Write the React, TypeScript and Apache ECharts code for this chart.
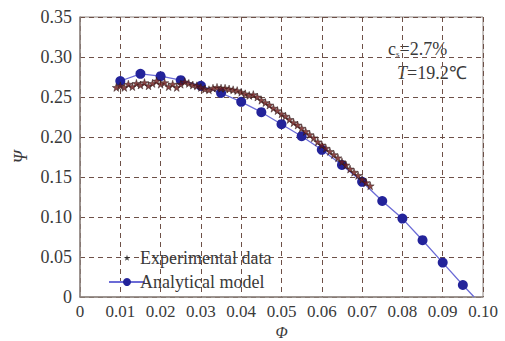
import React, { useEffect, useRef } from "react";
import * as echarts from "echarts";

const expX: number[] = [
  0.009, 0.010, 0.011, 0.012, 0.013, 0.014, 0.015, 0.016, 0.017, 0.018, 0.019, 0.020,
  0.021, 0.022, 0.023, 0.024, 0.025, 0.026, 0.027, 0.028, 0.029, 0.030, 0.031, 0.032,
  0.033, 0.034, 0.035, 0.036, 0.037, 0.038, 0.039, 0.040, 0.041, 0.042, 0.043, 0.044,
  0.045, 0.046, 0.047, 0.048, 0.049, 0.050, 0.051, 0.052, 0.053, 0.054, 0.055, 0.056,
  0.057, 0.058, 0.059, 0.060, 0.061, 0.062, 0.063, 0.064, 0.065, 0.066, 0.067, 0.068,
  0.069, 0.070, 0.071, 0.072,
];
const expY: number[] = [
  0.262, 0.264, 0.262, 0.266, 0.263, 0.267, 0.265, 0.268, 0.264, 0.267, 0.270, 0.266,
  0.268, 0.263, 0.266, 0.262, 0.266, 0.269, 0.267, 0.265, 0.264, 0.262, 0.260, 0.259,
  0.261, 0.262, 0.261, 0.261, 0.260, 0.259, 0.258, 0.256, 0.254, 0.252, 0.253, 0.250,
  0.246, 0.243, 0.240, 0.236, 0.233, 0.229, 0.226, 0.222, 0.218, 0.215, 0.211, 0.207,
  0.203, 0.199, 0.194, 0.190, 0.186, 0.182, 0.178, 0.174, 0.169, 0.165, 0.160, 0.156,
  0.152, 0.147, 0.143, 0.139,
];

const modelX: number[] = [
  0.010, 0.015, 0.020, 0.025, 0.030, 0.035, 0.040, 0.045, 0.050, 0.055, 0.060, 0.065,
  0.070, 0.075, 0.080, 0.085, 0.090, 0.095,
];
const modelY: number[] = [
  0.270, 0.279, 0.276, 0.271, 0.264, 0.255, 0.244, 0.231, 0.216, 0.201, 0.184, 0.165,
  0.144, 0.120, 0.098, 0.071, 0.043, 0.015,
];
// line end where the model reaches zero (no marker)
const modelEnd: number[] = [0.0978, 0];

const xTicks: string[] = ["0", "0.01", "0.02", "0.03", "0.04", "0.05", "0.06", "0.07", "0.08", "0.09", "0.10"];
const yTicks: string[] = ["0", "0.05", "0.10", "0.15", "0.20", "0.25", "0.30", "0.35"];

const STAR_D = "M50,0 L61,35 L98,35 L68,57 L79,91 L50,70 L21,91 L32,57 L2,35 L39,35 Z";
const STAR = "path://" + STAR_D;
// same star with empty margin so that the legend icon is drawn smaller
const STAR_SMALL = "path://M-22,-22 L-22,-22 M122,122 L122,122 " + STAR_D;
const FONT = "Times New Roman, Liberation Serif, serif";
const TXT = "#3a3a3a";

export default function App() {
  const ref = useRef<HTMLDivElement>(null);
  useEffect(() => {
    if (!ref.current) return;
    const chart = echarts.init(ref.current, undefined, { renderer: "svg" });
    const expData = expX.map((x, i) => [x, expY[i]]);
    const modelData: any[] = modelX.map((x, i) => [x, modelY[i]]);
    modelData.push({ value: modelEnd, symbol: "none" });
    const split = { show: true, lineStyle: { color: "#6e5047", type: [5, 4], width: 1 } };
    chart.setOption({
      animation: false,
      backgroundColor: "#ffffff",
      textStyle: { fontFamily: FONT },
      grid: {
        left: 80,
        right: 22,
        top: 17,
        bottom: 44,
        containLabel: false,
        outerBoundsMode: "none",
        show: true,
        borderColor: "#8f8580",
        borderWidth: 1,
      },
      xAxis: {
        type: "value",
        min: 0,
        max: 0.1,
        interval: 0.01,
        name: "Φ",
        nameLocation: "middle",
        nameGap: 20,
        nameTextStyle: { fontFamily: FONT, fontStyle: "italic", fontSize: 16, color: TXT },
        axisLine: { show: true, lineStyle: { color: "#8f8580", width: 1.5 } },
        axisTick: { show: false },
        axisLabel: {
          fontFamily: FONT,
          fontSize: 17,
          color: TXT,
          margin: 6,
          formatter: (v: number) => xTicks[Math.round(v * 100)] ?? "",
        },
        splitLine: split,
      },
      yAxis: {
        type: "value",
        min: 0,
        max: 0.35,
        interval: 0.05,
        name: "Ψ",
        nameLocation: "middle",
        nameGap: 50,
        nameRotate: 90,
        nameTextStyle: { fontFamily: FONT, fontStyle: "italic", fontSize: 18, color: TXT },
        axisLine: { show: true, lineStyle: { color: "#8f8580", width: 1.5 } },
        axisTick: { show: false },
        axisLabel: {
          fontFamily: FONT,
          fontSize: 18,
          color: TXT,
          margin: 8,
          formatter: (v: number) => yTicks[Math.round(v * 20)] ?? "",
        },
        splitLine: split,
      },
      legend: {
        orient: "vertical",
        left: 103,
        top: 244,
        itemWidth: 36,
        itemHeight: 10,
        itemGap: 6,
        textStyle: { fontFamily: FONT, fontSize: 18, color: TXT, padding: [0, 0, 0, -10] },
        data: [
          { name: "Experimental data", icon: STAR_SMALL, itemStyle: { color: "#222", borderWidth: 0 } },
          { name: "Analytical model" },
        ],
      },
      series: [
        {
          name: "Analytical model",
          type: "line",
          data: modelData,
          symbol: "circle",
          symbolSize: 10,
          lineStyle: { color: "#6b6bd6", width: 1.3 },
          itemStyle: { color: "#23239a" },
          z: 2,
        },
        {
          name: "Experimental data",
          type: "scatter",
          data: expData,
          symbol: STAR,
          symbolSize: 8,
          itemStyle: { color: "#6e1818", borderColor: "#2a1a1a", borderWidth: 0.6 },
          z: 3,
        },
      ],
      graphic: [
        {
          type: "text",
          left: 388,
          top: 40,
          style: {
            text: "{a|c}{s|s}{a|=2.7%}",
            rich: {
              a: { fontFamily: FONT, fontSize: 18, fill: TXT },
              s: { fontFamily: FONT, fontSize: 9, fill: TXT, padding: [10, 0, 0, 0] },
            },
          },
        },
        {
          type: "text",
          left: 397,
          top: 64,
          style: {
            text: "{i|T}{a|=19.2℃}",
            rich: {
              a: { fontFamily: FONT, fontSize: 18, fill: TXT },
              i: { fontFamily: FONT, fontSize: 18, fontStyle: "italic", fill: TXT },
            },
          },
        },
      ],
    });
    return () => chart.dispose();
  }, []);
  return (
    <div
      ref={ref}
      style={{ position: "fixed", left: 0, top: 0, width: 505, height: 341 }}
    />
  );
}
